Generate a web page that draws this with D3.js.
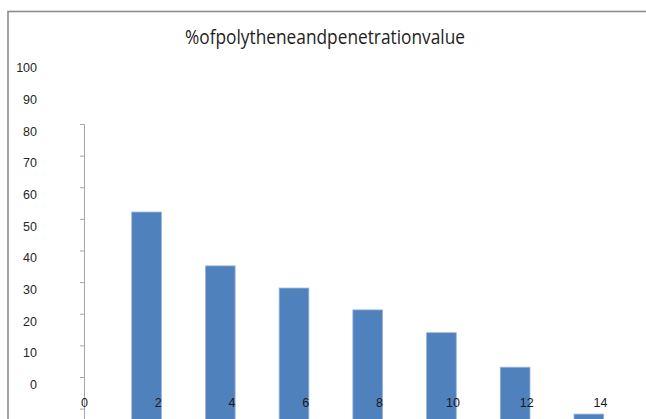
<!DOCTYPE html>
<html>
<head>
<meta charset="utf-8">
<script src="https://cdn.jsdelivr.net/npm/d3@7/dist/d3.min.js"></script>
<style>
  html, body { margin: 0; padding: 0; background: #fff; }
  svg { display: block; }
  text { font-family: "Liberation Sans Narrow", "Liberation Sans", Arial, sans-serif; }
</style>
</head>
<body>
<svg id="chart" width="646" height="419"></svg>
<script>
// Chart content
const title = "%ofpolytheneandpenetrationvalue";
const categories = [2, 4, 6, 8, 10, 12, 14];
const values = [54.3, 37.3, 30.3, 23.4, 16.2, 5.3, -9.5];
const yTickLabels = [0, 10, 20, 30, 40, 50, 60, 70, 80, 90, 100];
const xTickLabels = [0, 2, 4, 6, 8, 10, 12, 14];
const axisTickValues = [-10, 0, 10, 20, 30, 40, 50, 60, 70, 80];

const W = 646, H = 419;
const svg = d3.select("#chart");

// Outer frame (left and top edges visible)
svg.append("rect")
  .attr("x", 8).attr("y", 11.5)
  .attr("width", W + 20).attr("height", H + 20)
  .attr("fill", "#fff")
  .attr("stroke", "#8c8c8c")
  .attr("stroke-width", 1.6);

// Title
svg.append("text")
  .attr("x", 325).attr("y", 44)
  .attr("text-anchor", "middle")
  .attr("font-size", 20)
  .attr("fill", "#1e1e1e")
  .attr("textLength", 280)
  .attr("lengthAdjust", "spacingAndGlyphs")
  .style("font-family", "'Open Sans', 'Noto Sans', sans-serif")
  .text(title);

// Value scale used by the tick labels and the bars
const y = d3.scaleLinear().domain([0, 100]).range([384, 67.3]);
const x = d3.scaleLinear().domain([0, 14]).range([84, 600]);
const baseValue = -15;

// Left value labels (labels only)
const yLabelAxis = d3.axisLeft(y).tickValues(yTickLabels).tickSize(0).tickPadding(0);
const gyl = svg.append("g").attr("transform", "translate(37,0)").call(yLabelAxis);
gyl.select(".domain").remove();
gyl.selectAll("text")
  .attr("font-size", 12.5)
  .attr("fill", "#262626")
  .attr("dy", "0.35em")
  .style("font-family", "'Liberation Sans Narrow', 'Liberation Sans', Arial, sans-serif");

// Vertical axis line with ticks
const axisY = d3.scaleLinear().domain([0, 80]).range([377, 124]);
const axisDomain = [-15, 80];
const axisYFull = axisY.copy().domain(axisDomain).range(axisDomain.map(axisY));
const gAxis = svg.append("g").attr("transform", "translate(84,0)")
  .call(d3.axisLeft(axisYFull).tickValues(axisTickValues).tickSize(4).tickSizeOuter(4).tickFormat(""));
gAxis.select(".domain").attr("stroke", "#a6a6a6");
gAxis.selectAll(".tick line").attr("stroke", "#a6a6a6");

// Bars
svg.append("g").selectAll("rect")
  .data(categories.map((c, i) => ({ c, v: values[i] })))
  .join("rect")
  .attr("x", d => x(d.c) - 26)
  .attr("width", 29.7)
  .attr("y", d => y(d.v))
  .attr("height", d => y(baseValue) - y(d.v))
  .attr("fill", "#4f81bd")
  .attr("stroke", "#9bb4d8")
  .attr("stroke-width", 0.8);

// Category labels
const xLabelAxis = d3.axisBottom(x).tickValues(xTickLabels).tickSize(0).tickPadding(0);
const gxl = svg.append("g").attr("transform", "translate(0,403)").call(xLabelAxis);
gxl.select(".domain").remove();
gxl.selectAll("text")
  .attr("y", 0)
  .attr("dy", "0.35em")
  .attr("font-size", 12.5)
  .attr("fill", "#1a1a1a")
  .style("font-family", "'Liberation Sans Narrow', 'Liberation Sans', Arial, sans-serif");
</script>
</body>
</html>
